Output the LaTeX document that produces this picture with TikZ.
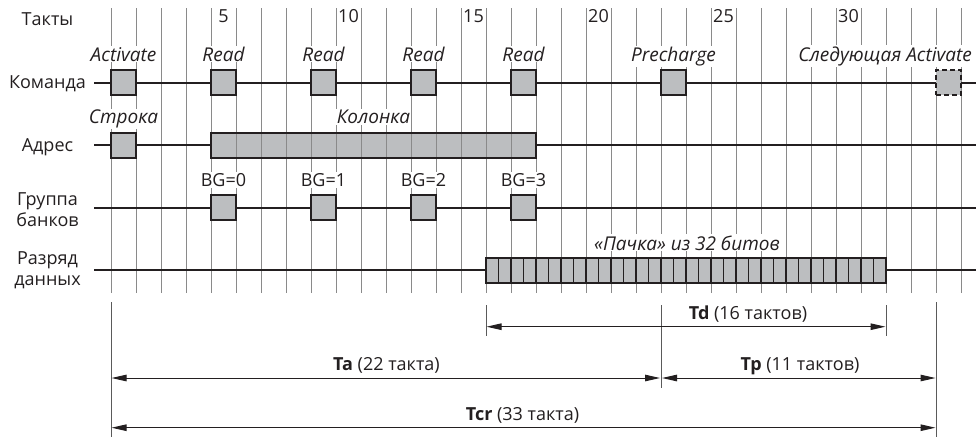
\documentclass[tikz,border=0pt]{standalone}
\usepackage{fontspec}
\setmainfont{Open Sans}
\usetikzlibrary{arrows.meta}
\definecolor{ink}{HTML}{231F20}
\definecolor{gridc}{HTML}{8A8A8A}
\definecolor{boxc}{HTML}{BCBEC0}
\definecolor{mgray}{HTML}{5A5A5A}
\begin{document}
\begin{tikzpicture}[x=1pt,y=-1pt,
  font=\fontsize{18}{21}\selectfont,
  gridline/.style={draw=gridc, line width=1pt},
  sig/.style={draw=ink, line width=2pt},
  cbox/.style={draw=ink, fill=boxc, line width=2.2pt, minimum width=25pt, minimum height=25pt, inner sep=0pt, outer sep=0pt},
  dbox/.style={cbox, dash pattern=on 5pt off 3pt},
  bitbox/.style={cbox, minimum width=12.5pt, line width=1.8pt},
  itlbl/.style={font=\fontsize{19}{22}\selectfont\itshape, fill=white, inner sep=1pt, text=ink, anchor=base},
  uplbl/.style={fill=white, inner sep=1pt, text=ink, anchor=base},
  side/.style={text=ink, anchor=base},
  mline/.style={draw=mgray, line width=1pt},
  dim/.style={draw=ink, line width=1pt, >={Triangle[length=15pt,width=6.5pt]}, <->},
]
\def\ya{82.5}
\def\yb{145.1}
\def\yc{207.7}
\def\yd{270.3}
\fill[white] (0,0) rectangle (976,437);
\useasboundingbox (0,0) rectangle (976,437);

% clock grid
\foreach \k in {0,...,34}
  \draw[gridline] ({111+25*\k},8) -- ({111+25*\k},293);

% signal lines
\draw[sig] (94,\ya) -- (976,\ya);
\draw[sig] (94,\yb) -- (976,\yb);
\draw[sig] (94,\yc) -- (976,\yc);
\draw[sig] (94,\yd) -- (976,\yd);

% command boxes
\node[cbox] (act) at (123.5,\ya) {};
\node[cbox] (rd1) at (223.5,\ya) {};
\node[cbox] (rd2) at (323.5,\ya) {};
\node[cbox] (rd3) at (423.5,\ya) {};
\node[cbox] (rd4) at (523.5,\ya) {};
\node[cbox] (pre) at (673.5,\ya) {};
\node[dbox] (nact) at (948.5,\ya) {};

% address boxes
\node[cbox] (row) at (123.5,\yb) {};
\node[cbox, minimum width=325pt] (col) at (373.5,\yb) {};
\foreach \k in {1,...,12}
  \draw[gridline] ({211+25*\k},{\yb-11.4}) -- ({211+25*\k},{\yb+11.4});

% bank group boxes
\node[cbox] (bg0) at (223.5,\yc) {};
\node[cbox] (bg1) at (323.5,\yc) {};
\node[cbox] (bg2) at (423.5,\yc) {};
\node[cbox] (bg3) at (523.5,\yc) {};

% data burst
\foreach \i in {0,...,31}
  \node[bitbox] (bit\i) at ({486+12.5*\i+6.25},\yd) {};

% top labels
\node[side] (takty) at (47.5,25) {Такты};
\foreach \n/\x in {5/223.5,10/348.5,15/473.5,20/598.5,25/723.5,30/848.5}
  \node[side, inner sep=0pt] (num\n) at (\x,22) {\n};

% left labels
\node[side] (lcmd) at (47.5,88.8) {Команда};
\node[side] (ladr) at (47.5,151.4) {Адрес};
\node[side] (lbg1) at (47.5,205) {Группа};
\node[side] (lbg2) at (47.5,226) {банков};
\node[side] (ld1) at (47.5,264.5) {Разряд};
\node[side] (ld2) at (47.5,285) {данных};

% labels above boxes
\node[itlbl] (tact) at (123.5,61) {Activate};
\node[itlbl] (trd1) at (223.5,61) {Read};
\node[itlbl] (trd2) at (323.5,61) {Read};
\node[itlbl] (trd3) at (423.5,61) {Read};
\node[itlbl] (trd4) at (523.5,61) {Read};
\node[itlbl] (tpre) at (673.5,61) {Precharge};
\node[itlbl, anchor=base east] (tnact) at (973,61) {Следующая Activate};
\node[itlbl] (trow) at (123.5,123.5) {Строка};
\node[itlbl] (tcol) at (373.5,123.5) {Колонка};
\node[uplbl] (tbg0) at (223.5,186.5) {BG=0};
\node[uplbl] (tbg1) at (323.5,186.5) {BG=1};
\node[uplbl] (tbg2) at (423.5,186.5) {BG=2};
\node[uplbl] (tbg3) at (523.5,186.5) {BG=3};
\node[itlbl] (tburst) at (687,250) {«Пачка» из 32 битов};

% timing measurement lines
\coordinate (v0t) at (111,302);  \coordinate (v0b) at (111,437);
\coordinate (v15t) at (486,305); \coordinate (v15b) at (486,336);
\coordinate (v22t) at (661,305); \coordinate (v22b) at (661,388);
\coordinate (v31t) at (886,305); \coordinate (v31b) at (886,336);
\coordinate (v33t) at (936,302); \coordinate (v33b) at (936,437);
\draw[mline] (v0t) -- (v0b);
\draw[mline] (v15t) -- (v15b);
\draw[mline] (v22t) -- (v22b);
\draw[mline] (v31t) -- (v31b);
\draw[mline] (v33t) -- (v33b);

\coordinate (td1) at (486.5,326.7); \coordinate (td2) at (885.5,326.7);
\coordinate (ta1) at (111.5,378);   \coordinate (ta2) at (660,378);
\coordinate (tp1) at (662,378);     \coordinate (tp2) at (935.5,378);
\coordinate (tc1) at (111.5,427.7); \coordinate (tc2) at (935.5,427.7);
\draw[dim] (td1) -- (td2);
\draw[dim] (ta1) -- (ta2);
\draw[dim] (tp1) -- (tp2);
\draw[dim] (tc1) -- (tc2);

\node[side] (ltd) at (748,319) {\textbf{Td} (16 тактов)};
\node[side] (lta) at (386.5,370) {\textbf{Ta} (22 такта)};
\node[side] (ltp) at (800,370.5) {\textbf{Tp} (11 тактов)};
\node[side] (ltc) at (522.5,420) {\textbf{Tcr} (33 такта)};
\end{tikzpicture}
\end{document}
